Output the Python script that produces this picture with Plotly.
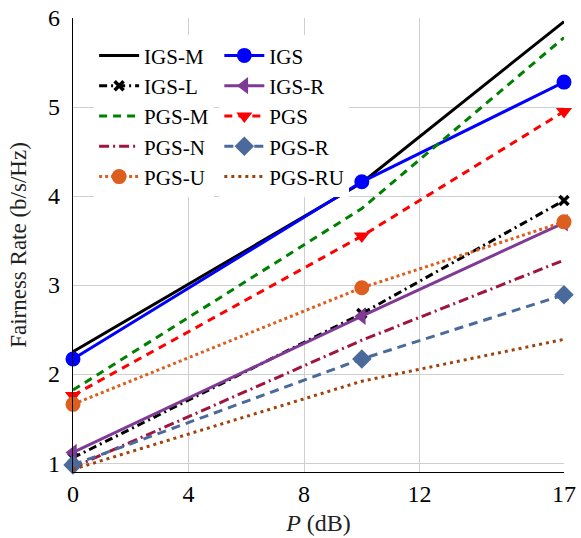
import plotly.graph_objects as go

x_vals = [0, 10, 17]
x_ticks = [0, 4, 8, 12, 17]
y_ticks = [1, 2, 3, 4, 5, 6]

names = ["IGS-M", "IGS", "IGS-L", "IGS-R", "PGS-M", "PGS", "PGS-N", "PGS-R", "PGS-U", "PGS-RU"]
igs_m = [2.25, 4.15, 5.96]
igs = [2.17, 4.16, 5.28]
igs_l = [1.06, 2.68, 3.95]
igs_r = [1.12, 2.65, 3.70]
pgs_m = [1.82, 3.86, 5.78]
pgs = [1.76, 3.55, 4.95]
pgs_n = [0.95, 2.38, 3.28]
pgs_r = [0.98, 2.17, 2.89]
pgs_u = [1.66, 2.97, 3.71]
pgs_ru = [0.93, 1.92, 2.39]

series = [igs_m, igs, igs_l, igs_r, pgs_m, pgs, pgs_n, pgs_r, pgs_u, pgs_ru]
styles = [
    dict(color="#000000", dash="solid", symbol=None, msize=0, legend="legend"),
    dict(color="#0000ff", dash="solid", symbol="circle", msize=15, legend="legend2"),
    dict(color="#000000", dash="8px,4px,2px,4px", symbol="x-thin-open", msize=9, legend="legend"),
    dict(color="#7e3a94", dash="solid", symbol="triangle-left", msize=15, legend="legend2"),
    dict(color="#008000", dash="8px,6px", symbol=None, msize=0, legend="legend"),
    dict(color="#ff0000", dash="8px,6px", symbol="triangle-down", msize=14, legend="legend2"),
    dict(color="#a0153e", dash="10px,4px,2px,4px", symbol=None, msize=0, legend="legend"),
    dict(color="#4a6a9c", dash="9px,6px", symbol="diamond", msize=15, legend="legend2"),
    dict(color="#dd5f1f", dash="3px,3px", symbol="circle", msize=15, legend="legend"),
    dict(color="#a0420c", dash="3px,4px", symbol=None, msize=0, legend="legend2"),
]

fig = go.Figure()
for name, ys, st in zip(names, series, styles):
    mode = "lines+markers" if st["symbol"] else "lines"
    marker = dict(symbol=st["symbol"], size=st["msize"], color=st["color"]) if st["symbol"] else None
    if st["symbol"] == "x-thin-open":
        marker = dict(symbol="x-thin-open", size=st["msize"], color=st["color"],
                      line=dict(width=3.5, color=st["color"]))
    fig.add_trace(go.Scatter(
        x=x_vals, y=ys, name=name, mode=mode,
        line=dict(color=st["color"], width=3, dash=st["dash"]),
        marker=marker, cliponaxis=False, legend=st["legend"],
    ))

font_family = "Liberation Serif, Times New Roman, serif"
legend_common = dict(
    bgcolor="white", borderwidth=0, font=dict(family=font_family, size=21, color="black"),
    yanchor="top", xanchor="left", tracegroupgap=0, itemwidth=40,
)
fig.update_layout(
    width=581, height=538,
    margin=dict(l=73, r=17, t=18, b=66),
    plot_bgcolor="white", paper_bgcolor="white",
    font=dict(family=font_family, color="black"),
    showlegend=True,
    legend=dict(x=0.043, y=0.962, **legend_common),
    legend2=dict(x=0.298, y=0.962, **legend_common),
    xaxis=dict(
        range=[0, 17], tickvals=x_ticks, ticktext=[str(t) for t in x_ticks],
        showgrid=True, gridcolor="#cfcfcf", gridwidth=1, automargin=False,
        showline=True, linecolor="black", linewidth=1.3, zeroline=False,
        ticks="", ticklabeloverflow="allow", tickfont=dict(size=24, family=font_family, color="black"),
        title=dict(text="<i>P</i> (dB)", font=dict(size=24, family=font_family, color="#222"), standoff=8),
    ),
    yaxis=dict(
        range=[0.9, 6], tickvals=y_ticks, ticktext=[str(t) for t in y_ticks],
        showgrid=True, gridcolor="#cfcfcf", gridwidth=1, automargin=False,
        showline=True, linecolor="black", linewidth=1.3, zeroline=False,
        ticks="", ticklabelstandoff=7, ticklabeloverflow="allow",
        tickfont=dict(size=24, family=font_family, color="black"),
        title=dict(text="Fairness Rate (b/s/Hz)", font=dict(size=23, family=font_family, color="#222"), standoff=14),
    ),
)

fig.write_html("out.html", config={"displayModeBar": False},
               post_script="document.body.style.margin='0';")
